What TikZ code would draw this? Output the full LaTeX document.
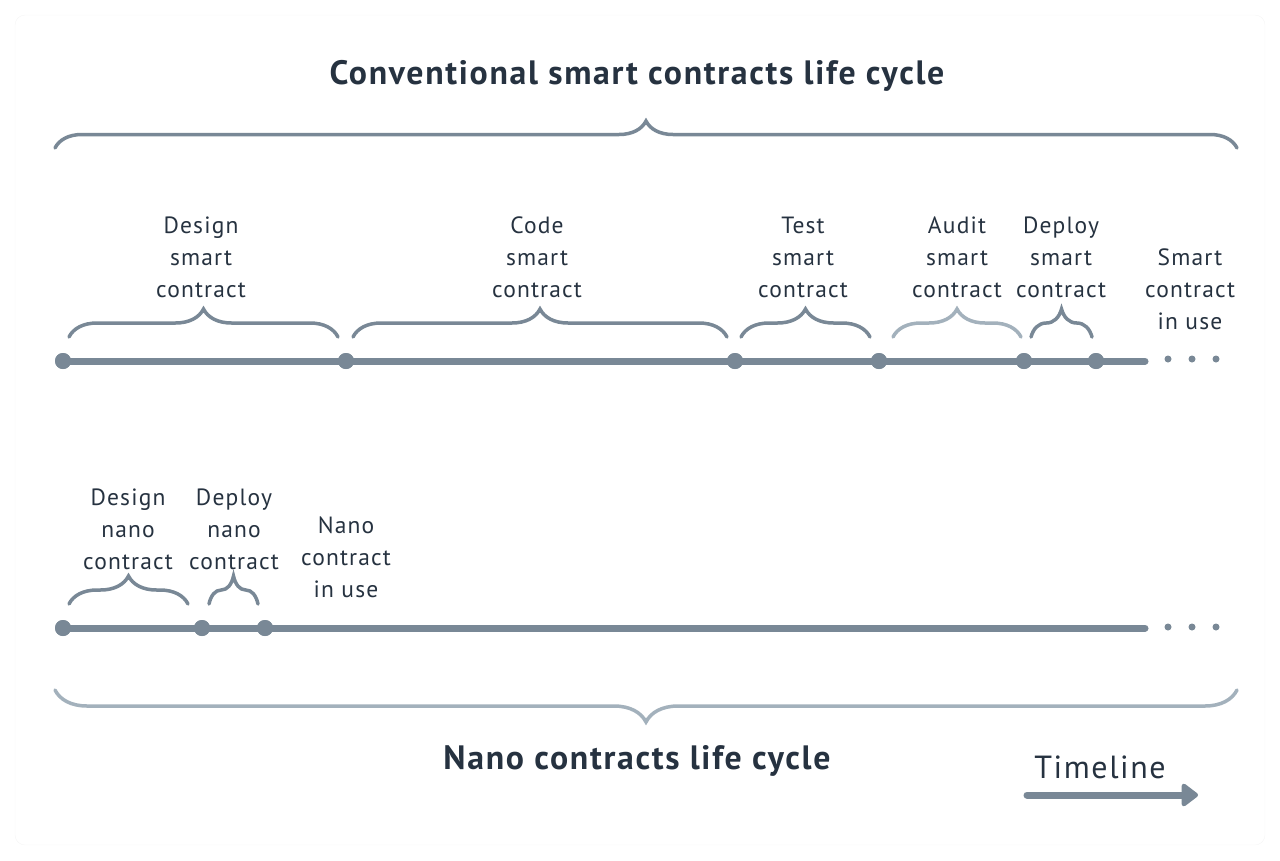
\documentclass[tikz,border=0pt]{standalone}
\usepackage{fontspec}
\setmainfont[LetterSpace=5]{PT Sans}
\usetikzlibrary{decorations.pathreplacing,arrows.meta}
\definecolor{lineblue}{RGB}{121,136,150}
\definecolor{lightblue}{RGB}{163,177,188}
\definecolor{textnavy}{RGB}{38,50,64}
\tikzset{
  phase/.style={align=center, text=textnavy, inner sep=0pt, font=\fontsize{23.5}{32}\selectfont},
  lifetitle/.style={text=textnavy, inner sep=0pt, font=\fontsize{33.8}{38}\selectfont\bfseries},
  milestone/.style={circle, fill=lineblue, inner sep=0pt, minimum size=16pt},
  more/.style={circle, fill=lineblue, inner sep=0pt, minimum size=7pt},
  phasebrace/.style={decorate, decoration={brace, amplitude=28pt}, line width=3.5pt, line cap=round, draw=lineblue},
  timeline/.style={line width=7pt, draw=lineblue, line cap=round}
}
\begin{document}
\begin{tikzpicture}[x=1pt, y=-1pt]
        \useasboundingbox (0, 0) rectangle (1280, 860);
        \draw[black!4, fill=white, rounded corners=10pt] (15, 15) rectangle (1265, 845);

        \node[lifetitle] (conv) at (637, 76) {Conventional smart contracts life cycle};
        \coordinate (cl) at (55, 148);
        \coordinate (cr) at (1237, 148);
        \draw[phasebrace, decoration={amplitude=27pt}] (cl) -- (cr);

        \coordinate (t1end) at (1145, 361);
        \node[milestone] (s1) at (63, 361) {};
        \node[milestone] (s2) at (346, 361) {};
        \node[milestone] (s3) at (735, 361) {};
        \node[milestone] (s4) at (879, 361) {};
        \node[milestone] (s5) at (1024, 361) {};
        \node[milestone] (s6) at (1096, 361) {};
        \draw[timeline] (s1.center) -- (t1end);
        \foreach \i in {1, ..., 6}
            \node[milestone] at (s\i) {};
        \node[more] (sm1) at (1168, 359) {};
        \node[more] (sm2) at (1192, 359) {};
        \node[more] (sm3) at (1216, 359) {};

        \node[phase] (design) at (201, 257) {Design\\smart\\contract};
        \node[phase] (code) at (537, 257) {Code\\smart\\contract};
        \node[phase] (test) at (803, 257) {Test\\smart\\contract};
        \node[phase] (audit) at (957, 257) {Audit\\smart\\contract};
        \node[phase] (deploy) at (1061, 257) {Deploy\\smart\\contract};
        \node[phase] (inuse) at (1190, 289) {Smart\\contract\\in use};

        \draw[phasebrace] (69, 337) -- (338, 337);
        \draw[phasebrace] (353, 337) -- (727, 337);
        \draw[phasebrace] (741, 337) -- (870, 337);
        \draw[phasebrace, draw=lightblue] (893, 337) -- (1021, 337);
        \draw[phasebrace] (1031, 337) -- (1092, 337);

        \coordinate (t2end) at (1145, 628);
        \node[milestone] (n1) at (63, 628) {};
        \node[milestone] (n2) at (202, 628) {};
        \node[milestone] (n3) at (265, 628) {};
        \draw[timeline] (n1.center) -- (t2end);
        \foreach \i in {1, 2, 3}
            \node[milestone] at (n\i) {};
        \node[more] (nm1) at (1168, 627) {};
        \node[more] (nm2) at (1192, 627) {};
        \node[more] (nm3) at (1216, 627) {};

        \node[phase] (ndesign) at (128, 529) {Design\\nano\\contract};
        \node[phase] (ndeploy) at (234, 529) {Deploy\\nano\\contract};
        \node[phase] (ninuse) at (346, 557) {Nano\\contract\\in use};

        \draw[phasebrace] (69, 604) -- (188, 604);
        \draw[phasebrace] (209, 604) -- (258, 604);

        \coordinate (nl) at (55, 690);
        \coordinate (nr) at (1237, 690);
        \draw[phasebrace, draw=lightblue, decoration={amplitude=32pt}] (nr) -- (nl);
        \node[lifetitle] (nano) at (637, 761) {Nano contracts life cycle};

        \node[phase, font=\fontsize{32}{36}\selectfont] (tl) at (1100, 767) {Timeline};
        \coordinate (a1) at (1027, 795);
        \coordinate (a2) at (1198, 795);
        \draw[timeline, -{Triangle[length=18pt, width=26pt, round]}] (a1) -- (a2);
    \end{tikzpicture}
\end{document}
